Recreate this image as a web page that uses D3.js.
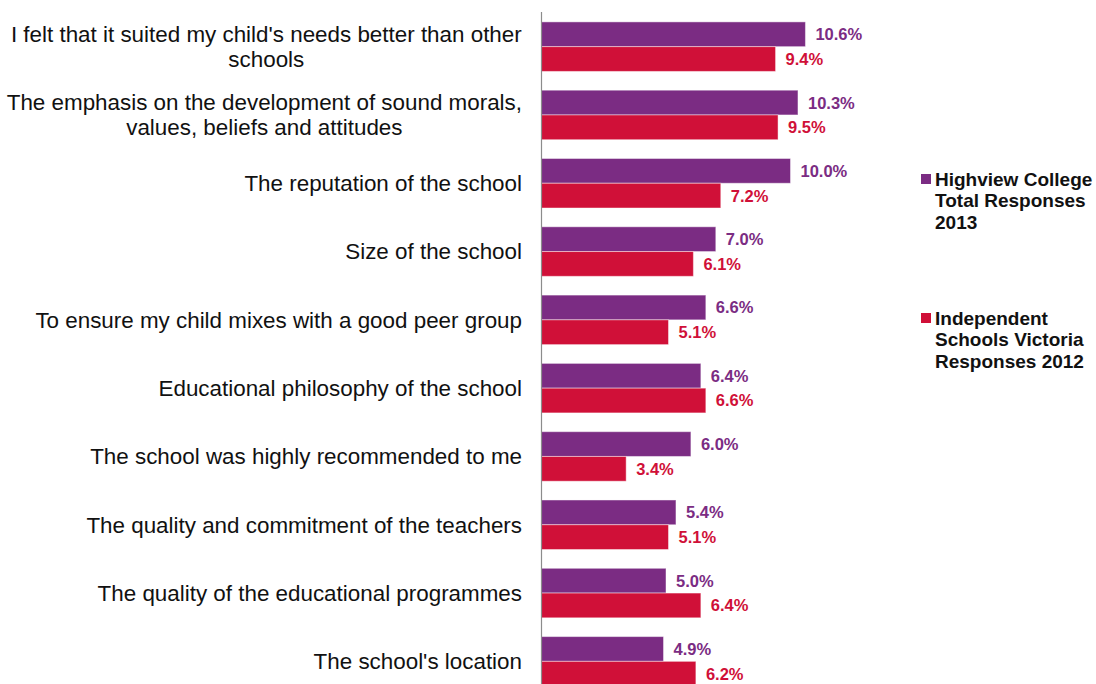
<!DOCTYPE html>
<html>
<head>
<meta charset="utf-8">
<script src="https://d3js.org/d3.v7.min.js"></script>
<style>
  html, body { margin: 0; padding: 0; background: #fff; }
  svg { display: block; font-family: "Liberation Sans", Arial, sans-serif; }
</style>
</head>
<body>
<svg id="chart" width="1096" height="684"></svg>
<script>
// Reasons for choosing the school, share of responses (%)
const categories = [
  ["I felt that it suited my child's needs better than other", "schools"],
  ["The emphasis on the development of sound morals,", "values, beliefs and attitudes"],
  ["The reputation of the school"],
  ["Size of the school"],
  ["To ensure my child mixes with a good peer group"],
  ["Educational philosophy of the school"],
  ["The school was highly recommended to me"],
  ["The quality and commitment of the teachers"],
  ["The quality of the educational programmes"],
  ["The school's location"]
];
const highview2013 = [10.6, 10.3, 10.0, 7.0, 6.6, 6.4, 6.0, 5.4, 5.0, 4.9];
const isv2012 = [9.4, 9.5, 7.2, 6.1, 5.1, 6.6, 3.4, 5.1, 6.4, 6.2];
const seriesNames = [
  ["Highview College", "Total Responses", "2013"],
  ["Independent", "Schools Victoria", "Responses 2012"]
];
const seriesColors = ["#7B2C83", "#D01038"];

const svg = d3.select("#chart");
const axisX = 541.5;

const y = d3.scaleBand()
  .domain(d3.range(categories.length))
  .range([12.5, 695.5])
  .paddingInner(0.275)
  .paddingOuter(0.1375);

const x = d3.scaleLinear().domain([0, 10]).range([axisX, axisX + 249]);

const sub = d3.scaleBand().domain([0, 1]).range([0, y.bandwidth()]);

const series = [highview2013, isv2012];

// bars
const groups = svg.append("g").selectAll("g")
  .data(categories.map((c, i) => i))
  .join("g")
  .attr("transform", i => `translate(0,${y(i)})`);

series.forEach((vals, s) => {
  groups.append("rect")
    .attr("x", axisX)
    .attr("y", sub(s))
    .attr("width", i => x(vals[i]) - axisX)
    .attr("height", sub.bandwidth())
    .attr("fill", seriesColors[s])
    .attr("stroke", "rgba(255,255,255,0.45)")
    .attr("stroke-width", 1);

  groups.append("text")
    .attr("x", i => x(vals[i]) + 10)
    .attr("y", sub(s) + sub.bandwidth() / 2)
    .attr("dy", "0.36em")
    .attr("font-size", 16.5)
    .attr("font-weight", "bold")
    .attr("fill", seriesColors[s])
    .text(i => vals[i].toFixed(1) + "%");
});

// vertical axis line
svg.append("line")
  .attr("x1", axisX).attr("x2", axisX)
  .attr("y1", 12).attr("y2", 684)
  .attr("stroke", "#8c8c8c")
  .attr("stroke-width", 1.2);

// category labels: widest line right-aligned, lines centred on it
const labelRight = 522;
const lineH = 25;
categories.forEach((lines, i) => {
  const cy = y(i) + y.bandwidth() / 2;
  const t = svg.append("text")
    .attr("font-size", 22.4)
    .attr("fill", "#111")
    .attr("text-anchor", "middle");
  lines.forEach((ln, k) => {
    t.append("tspan")
      .attr("x", 0)
      .attr("y", cy + (k - (lines.length - 1) / 2) * lineH)
      .attr("dy", "0.35em")
      .text(ln);
  });
  const w = t.node().getBBox().width;
  t.selectAll("tspan").attr("x", labelRight - w / 2);
});

// legend
const legendTops = [179, 318];
seriesNames.forEach((lines, s) => {
  const top = legendTops[s];
  svg.append("rect")
    .attr("x", 921).attr("y", top - 5)
    .attr("width", 10).attr("height", 10)
    .attr("fill", seriesColors[s]);
  const t = svg.append("text")
    .attr("font-size", 19)
    .attr("font-weight", "bold")
    .attr("fill", "#111");
  lines.forEach((ln, k) => {
    t.append("tspan")
      .attr("x", 935)
      .attr("y", top + k * 21.5)
      .attr("dy", "0.35em")
      .text(ln);
  });
});
</script>
</body>
</html>
